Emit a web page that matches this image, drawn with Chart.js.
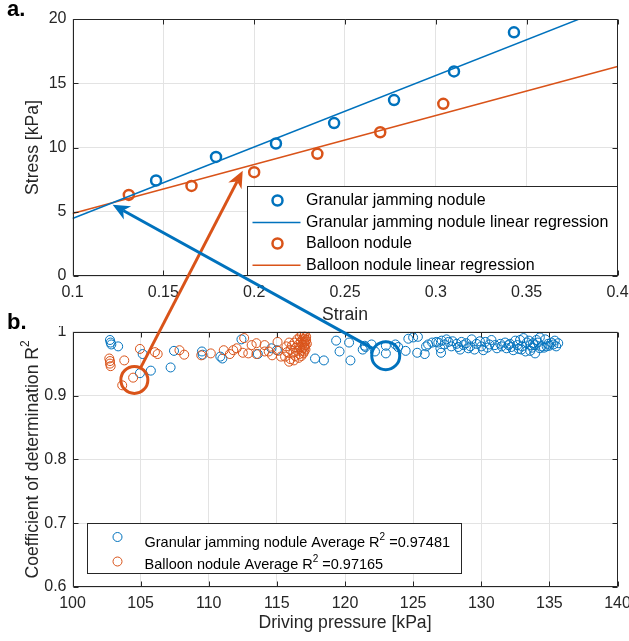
<!DOCTYPE html>
<html>
<head>
<meta charset="utf-8">
<title>Stress / R2 nodules</title>
<script src="https://cdn.jsdelivr.net/npm/chart.js@4.4.0/dist/chart.umd.min.js"></script>
<style>
    html, body { margin: 0; padding: 0; background: #fff; }
    #figure { position: relative; width: 629px; height: 641px; overflow: hidden; }
    #stressChart { position: absolute; left: 0; top: 0; }
    #r2Chart { position: absolute; left: 0; top: 326px; }
    #overlay { position: absolute; left: 0; top: 0; pointer-events: none; }
    .panel-label { position: absolute; left: 7px; font: bold 22px "Liberation Sans", Arial, sans-serif; line-height: 22px; color: #000; }
</style>
</head>
<body>
<div id="figure">
    <canvas id="stressChart" width="629" height="326"></canvas>
    <canvas id="r2Chart" width="629" height="315"></canvas>
    <canvas id="overlay" width="629" height="641"></canvas>
    <div class="panel-label" style="top:-2px">a.</div>
    <div class="panel-label" style="top:311px">b.</div>
</div>
<script>
// ---- datos panel a (stress vs strain) ----
const strainGJ = [0.146, 0.179, 0.212, 0.244, 0.277, 0.310, 0.343];
const stressGJ = [7.43, 9.27, 10.31, 11.9, 13.69, 15.92, 18.96];
const strainBN = [0.131, 0.1655, 0.200, 0.2348, 0.2694, 0.3041];
const stressBN = [6.31, 7.01, 8.08, 9.51, 11.19, 13.40];
// rectas de regresion (extremos)
const fitStrain = [0.1, 0.4];
const fitGJ = [4.47, 21.17];
const fitBN = [4.86, 16.31];
const strainTicks = [0.1, 0.15, 0.2, 0.25, 0.3, 0.35, 0.4];
const stressTicks = [0, 5, 10, 15, 20];

// ---- datos panel b (R2 vs driving pressure) ----
const pressureGJ = [102.75, 102.8, 102.85, 103.35, 104.95, 105.15, 105.75, 107.2, 107.45, 109.5,
    109.55, 110.85, 111.0, 112.4, 113.6, 114.6, 115.0, 117.8, 118.45, 119.35,
    119.6, 120.3, 120.4, 121.3, 121.5, 121.95, 122.2, 123.0, 123.0, 123.7,
    123.9, 124.45, 124.65, 125.0, 125.35, 125.3, 125.85, 125.95, 126.4, 126.7,
    127.0, 127.05, 127.1, 127.45, 127.8, 128.2, 128.45, 128.55, 128.9, 129.05,
    129.3, 129.65, 130.0, 130.15, 130.3, 130.75, 131.0, 131.4, 131.75, 131.85,
    132.1, 132.35, 132.5, 132.85, 132.95, 133.1, 133.35, 133.6, 133.6, 133.8,
    133.95, 134.05, 134.3, 134.3, 134.7, 134.8, 134.9, 135.15, 135.4, 135.65,
    127.9, 128.3, 128.7, 129.2, 129.5, 129.9, 130.45, 130.6, 131.15, 131.5,
    132.0, 132.2, 132.65, 132.75, 133.0, 133.25, 133.5, 133.75, 133.9, 134.15,
    134.45, 134.6, 135.0, 135.3, 135.5, 126.1, 126.85, 127.3, 127.6, 121.45];
const r2GJ = [0.987, 0.983, 0.980, 0.977, 0.935, 0.965, 0.939, 0.944, 0.970, 0.969,
    0.964, 0.961, 0.958, 0.988, 0.965, 0.974, 0.971, 0.958, 0.955, 0.986,
    0.969, 0.983, 0.955, 0.972, 0.976, 0.980, 0.969, 0.978, 0.966, 0.980,
    0.976, 0.970, 0.989, 0.991, 0.992, 0.967, 0.965, 0.977, 0.983, 0.984,
    0.974, 0.967, 0.986, 0.988, 0.977, 0.981, 0.972, 0.984, 0.982, 0.974,
    0.988, 0.981, 0.977, 0.971, 0.984, 0.987, 0.979, 0.981, 0.983, 0.974,
    0.981, 0.971, 0.986, 0.987, 0.972, 0.990, 0.983, 0.979, 0.970, 0.982,
    0.966, 0.987, 0.991, 0.974, 0.988, 0.977, 0.981, 0.983, 0.986, 0.982,
    0.985, 0.976, 0.979, 0.977, 0.972, 0.985, 0.975, 0.980, 0.974, 0.977,
    0.979, 0.976, 0.979, 0.973, 0.977, 0.969, 0.986, 0.975, 0.979, 0.983,
    0.977, 0.975, 0.978, 0.980, 0.977, 0.980, 0.983, 0.980, 0.984, 0.978];
const pressureBN = [102.7, 102.75, 102.75, 102.8, 103.65, 103.8, 104.45, 104.95, 106.05, 106.25,
    107.85, 108.2, 109.45, 110.15, 111.1, 111.55, 111.8, 112.05, 112.5, 112.6,
    112.9, 113.15, 113.5, 113.5, 114.1, 114.1, 114.4, 114.65, 115.05, 115.1,
    115.3, 115.6, 115.7, 115.9, 115.9, 116.0, 116.0, 116.1, 116.2, 116.3,
    116.35, 116.4, 116.5, 116.5, 116.6, 116.6, 116.65, 116.7, 116.7, 116.75,
    116.8, 116.85, 116.85, 116.9, 116.9, 116.95, 117.0, 117.0, 117.0, 117.0,
    117.05, 117.05, 117.1, 117.1, 117.1, 117.15, 117.15, 117.2, 116.25, 115.75,
    116.8, 117.05];
const r2BN = [0.958, 0.954, 0.950, 0.946, 0.916, 0.955, 0.928, 0.973, 0.968, 0.965,
    0.971, 0.964, 0.963, 0.966, 0.971, 0.965, 0.971, 0.974, 0.967, 0.990,
    0.966, 0.979, 0.982, 0.965, 0.979, 0.969, 0.969, 0.963, 0.984, 0.970,
    0.961, 0.961, 0.977, 0.983, 0.953, 0.957, 0.972, 0.978, 0.967, 0.983,
    0.962, 0.975, 0.988, 0.970, 0.980, 0.959, 0.965, 0.992, 0.976, 0.985,
    0.970, 0.995, 0.980, 0.988, 0.974, 0.966, 0.993, 0.983, 0.977, 0.969,
    0.997, 0.989, 0.985, 0.979, 0.972, 0.992, 0.987, 0.981, 0.955, 0.968,
    0.962, 0.975];
const avgR2 = [0.97481, 0.97165];
const pressureTicks = [100, 105, 110, 115, 120, 125, 130, 135, 140];
const r2Ticks = [0.6, 0.7, 0.8, 0.9, 1];

// anotaciones (circulo en panel b -> punta de flecha en panel a)
const orangeRing = { x: 104.54, y: 0.9245 }, orangeTip = { x: 0.1937, y: 8.19 };
const blueRing = { x: 122.99, y: 0.9625 }, blueTip = { x: 0.1221, y: 5.55 };

const BLUE = '#0072BD';
const ORANGE = '#D95319';
const GRID = '#e3e3e3';
const AXIS = '#262626';
const FONT = '"Liberation Sans", Arial, Helvetica, sans-serif';

Chart.defaults.font.family = FONT;
Chart.defaults.color = AXIS;
Chart.defaults.animation = false;

function points(xs, ys) {
    return xs.map((x, i) => ({ x: x, y: ys[i] }));
}

function tickText(v) {
    return String(+Number(v).toFixed(2));
}

// ancho / alto fijo de los ejes para que el area de trazado quede donde la figura original
function fixedAxis(size) {
    return function (scale) {
        if (scale.isHorizontal()) scale.height = size; else scale.width = size;
        scale.paddingLeft = scale.paddingRight = scale.paddingTop = scale.paddingBottom = 0;
    };
}

function forceTicks(values) {
    return function (scale) {
        scale.ticks = values.map(v => ({ value: v }));
    };
}

// caja y marcas hacia dentro, estilo MATLAB
const axesBox = {
    id: 'axesBox',
    afterDraw(chart) {
        const { ctx, chartArea: a } = chart;
        const xs = chart.scales.x, ys = chart.scales.y;
        const L = Math.round(a.left) + 0.5, R = Math.round(a.right) - 0.5;
        const T = Math.round(a.top) + 0.5, B = Math.round(a.bottom) - 0.5;
        ctx.save();
        ctx.strokeStyle = AXIS;
        ctx.lineWidth = 1;
        ctx.beginPath();
        xs.ticks.forEach(t => {
            const p = Math.round(xs.getPixelForValue(t.value)) + 0.5;
            ctx.moveTo(p, B); ctx.lineTo(p, B - 5);
            ctx.moveTo(p, T); ctx.lineTo(p, T + 5);
        });
        ys.ticks.forEach(t => {
            const p = Math.round(ys.getPixelForValue(t.value)) + 0.5;
            ctx.moveTo(L, p); ctx.lineTo(L + 5, p);
            ctx.moveTo(R, p); ctx.lineTo(R - 5, p);
        });
        ctx.rect(L, T, R - L, B - T);
        ctx.stroke();
        ctx.restore();
    }
};

function ring(ctx, x, y, r, color, lw) {
    ctx.beginPath();
    ctx.arc(x, y, r, 0, Math.PI * 2);
    ctx.strokeStyle = color;
    ctx.lineWidth = lw;
    ctx.stroke();
}

// leyenda del panel a
const stressLegend = {
    id: 'stressLegend',
    afterDraw(chart) {
        const { ctx, chartArea: a } = chart;
        const left = Math.round(a.left + 174.5) + 0.5, top = Math.round(a.top + 167) + 0.5;
        const right = Math.round(a.right) - 0.5, bottom = Math.round(a.bottom) - 0.5;
        const rows = [
            { kind: 'marker', color: BLUE, text: chart.data.datasets[0].label },
            { kind: 'line', color: BLUE, text: chart.data.datasets[1].label },
            { kind: 'marker', color: ORANGE, text: chart.data.datasets[2].label },
            { kind: 'line', color: ORANGE, text: chart.data.datasets[3].label }
        ];
        const rowY = [14, 36, 57, 78.7];
        ctx.save();
        ctx.fillStyle = '#fff';
        ctx.fillRect(left, top, right - left, bottom - top);
        ctx.strokeStyle = AXIS;
        ctx.lineWidth = 1;
        ctx.strokeRect(left, top, right - left, bottom - top);
        ctx.font = '16px ' + FONT;
        ctx.textBaseline = 'middle';
        rows.forEach((row, i) => {
            const y = top + rowY[i];
            if (row.kind === 'marker') {
                ring(ctx, left + 30, y, 5, row.color, 2.5);
            } else {
                ctx.beginPath();
                ctx.moveTo(left + 5, y);
                ctx.lineTo(left + 53, y);
                ctx.strokeStyle = row.color;
                ctx.lineWidth = 1.5;
                ctx.stroke();
            }
            ctx.fillStyle = '#000';
            ctx.fillText(row.text, left + 58.5, y);
        });
        ctx.restore();
    }
};

// texto con superindice "2"
function supText(ctx, x, y, parts, size, supSize, raise) {
    let cx = x;
    parts.forEach(p => {
        ctx.font = (p.sup ? supSize : size) + 'px ' + FONT;
        ctx.fillText(p.text, cx, p.sup ? y - raise : y);
        cx += ctx.measureText(p.text).width;
    });
    return cx - x;
}

function supWidth(ctx, parts, size, supSize) {
    let w = 0;
    parts.forEach(p => {
        ctx.font = (p.sup ? supSize : size) + 'px ' + FONT;
        w += ctx.measureText(p.text).width;
    });
    return w;
}

// leyenda y titulo Y del panel b
const r2Decor = {
    id: 'r2Decor',
    afterDraw(chart) {
        const { ctx, chartArea: a } = chart;
        // titulo eje Y con R^2
        const title = [{ text: 'Coefficient of determination R' }, { text: '2', sup: true }];
        ctx.save();
        ctx.fillStyle = AXIS;
        ctx.textBaseline = 'middle';
        ctx.translate(33.2, (a.top + a.bottom) / 2);
        ctx.rotate(-Math.PI / 2);
        const tw = supWidth(ctx, title, 17.6, 12);
        supText(ctx, -tw / 2, 0, title, 17.6, 12, 7.5);
        ctx.restore();

        // leyenda
        const left = Math.round(a.left + 14) + 0.5, right = Math.round(a.left + 388) + 0.5;
        const top = Math.round(a.bottom - 64.3) + 0.5, bottom = Math.round(a.bottom - 14) + 0.5;
        const rows = [
            { color: BLUE, name: 'Granular jamming nodule Average R', value: avgR2[0] },
            { color: ORANGE, name: 'Balloon nodule Average R', value: avgR2[1] }
        ];
        const markY = [13.5, 38], baseY = [23, 45.6];
        ctx.save();
        ctx.fillStyle = '#fff';
        ctx.fillRect(left, top, right - left, bottom - top);
        ctx.strokeStyle = AXIS;
        ctx.lineWidth = 1;
        ctx.strokeRect(left, top, right - left, bottom - top);
        ctx.textBaseline = 'alphabetic';
        rows.forEach((row, i) => {
            ring(ctx, left + 30, top + markY[i], 4.5, row.color, 1);
            ctx.fillStyle = '#000';
            supText(ctx, left + 57, top + baseY[i],
                [{ text: row.name }, { text: '2', sup: true }, { text: ' =' + row.value }],
                14.5, 10, 7);
        });
        ctx.restore();
    }
};

// ---- panel a ----
const stressChart = new Chart(document.getElementById('stressChart'), {
    type: 'scatter',
    data: {
        datasets: [{
            label: 'Granular jamming nodule',
            data: points(strainGJ, stressGJ),
            borderColor: BLUE,
            backgroundColor: 'rgba(0,0,0,0)',
            pointRadius: 5,
            pointBorderWidth: 2.5,
            showLine: false,
            order: 1
        }, {
            label: 'Granular jamming nodule linear regression',
            data: points(fitStrain, fitGJ),
            borderColor: BLUE,
            borderWidth: 1.5,
            pointRadius: 0,
            showLine: true,
            order: 2
        }, {
            label: 'Balloon nodule',
            data: points(strainBN, stressBN),
            borderColor: ORANGE,
            backgroundColor: 'rgba(0,0,0,0)',
            pointRadius: 5,
            pointBorderWidth: 2.5,
            showLine: false,
            order: 3
        }, {
            label: 'Balloon nodule linear regression',
            data: points(fitStrain, fitBN),
            borderColor: ORANGE,
            borderWidth: 1.5,
            pointRadius: 0,
            showLine: true,
            order: 4
        }]
    },
    options: {
        responsive: false,
        events: [],
        layout: { padding: { top: 19, right: 11.5, left: 0, bottom: 0 } },
        plugins: { legend: { display: false }, tooltip: { enabled: false } },
        scales: {
            x: {
                type: 'linear',
                min: 0.1, max: 0.4,
                afterBuildTicks: forceTicks(strainTicks),
                afterFit: fixedAxis(50),
                ticks: { padding: 7, font: { size: 16 }, maxRotation: 0, autoSkip: false, callback: tickText },
                grid: { color: GRID, drawTicks: false },
                border: { display: false },
                title: { display: true, text: 'Strain', font: { size: 17.6 }, padding: { top: 0, bottom: 0 } }
            },
            y: {
                type: 'linear',
                min: 0, max: 20,
                afterBuildTicks: forceTicks(stressTicks),
                afterFit: fixedAxis(72.5),
                ticks: { padding: 6, font: { size: 16 }, callback: tickText },
                grid: { color: GRID, drawTicks: false },
                border: { display: false },
                title: { display: true, text: 'Stress [kPa]', font: { size: 17.6 }, padding: { top: 22.6, bottom: 0 } }
            }
        }
    },
    plugins: [axesBox, stressLegend]
});

// ---- panel b ----
const r2Chart = new Chart(document.getElementById('r2Chart'), {
    type: 'scatter',
    data: {
        datasets: [{
            label: 'Granular jamming nodule',
            data: points(pressureGJ, r2GJ),
            borderColor: BLUE,
            backgroundColor: 'rgba(0,0,0,0)',
            pointRadius: 4.5,
            pointBorderWidth: 1,
            order: 2
        }, {
            label: 'Balloon nodule',
            data: points(pressureBN, r2BN),
            borderColor: ORANGE,
            backgroundColor: 'rgba(0,0,0,0)',
            pointRadius: 4.5,
            pointBorderWidth: 1,
            order: 1
        }]
    },
    options: {
        responsive: false,
        events: [],
        layout: { padding: { top: 5.7, right: 11.5, left: 0, bottom: 0 } },
        plugins: { legend: { display: false }, tooltip: { enabled: false } },
        scales: {
            x: {
                type: 'linear',
                min: 100, max: 140,
                afterBuildTicks: forceTicks(pressureTicks),
                afterFit: fixedAxis(54),
                ticks: { padding: 7, font: { size: 16 }, maxRotation: 0, autoSkip: false, callback: tickText },
                grid: { color: GRID, drawTicks: false },
                border: { display: false },
                title: { display: true, text: 'Driving pressure [kPa]', font: { size: 17.6 }, padding: { top: 0, bottom: 6.9 } }
            },
            y: {
                type: 'linear',
                min: 0.6, max: 1,
                afterBuildTicks: forceTicks(r2Ticks),
                afterFit: fixedAxis(72.5),
                ticks: { padding: 6, font: { size: 16 }, callback: tickText },
                grid: { color: GRID, drawTicks: false },
                border: { display: false }
            }
        }
    },
    plugins: [axesBox, r2Decor]
});

// ---- flechas y circulos entre los dos paneles ----
function drawArrow(ctx, x0, y0, x1, y1, color) {
    const ang = Math.atan2(y1 - y0, x1 - x0);
    const c = Math.cos(ang), s = Math.sin(ang);
    const headLen = 17, headW = 7.5, notch = 12;
    ctx.strokeStyle = color;
    ctx.fillStyle = color;
    ctx.lineWidth = 3;
    ctx.beginPath();
    ctx.moveTo(x0, y0);
    ctx.lineTo(x1 - notch * c, y1 - notch * s);
    ctx.stroke();
    const bx = x1 - headLen * c, by = y1 - headLen * s;
    ctx.beginPath();
    ctx.moveTo(x1, y1);
    ctx.lineTo(bx + headW * s, by - headW * c);
    ctx.lineTo(x1 - notch * c, y1 - notch * s);
    ctx.lineTo(bx - headW * s, by + headW * c);
    ctx.closePath();
    ctx.fill();
}

function annotate(ctx, ring0, tip, color, radius) {
    const top2 = document.getElementById('r2Chart').offsetTop;
    const cx = r2Chart.scales.x.getPixelForValue(ring0.x);
    const cy = r2Chart.scales.y.getPixelForValue(ring0.y) + top2;
    const tx = stressChart.scales.x.getPixelForValue(tip.x);
    const ty = stressChart.scales.y.getPixelForValue(tip.y);
    ring(ctx, cx, cy, radius, color, 3);
    const d = Math.hypot(tx - cx, ty - cy);
    const sx = cx + (tx - cx) / d * radius, sy = cy + (ty - cy) / d * radius;
    drawArrow(ctx, sx, sy, tx, ty, color);
}

const ov = document.getElementById('overlay').getContext('2d');
annotate(ov, orangeRing, orangeTip, ORANGE, 13.5);
annotate(ov, blueRing, blueTip, BLUE, 14);
</script>
</body>
</html>
